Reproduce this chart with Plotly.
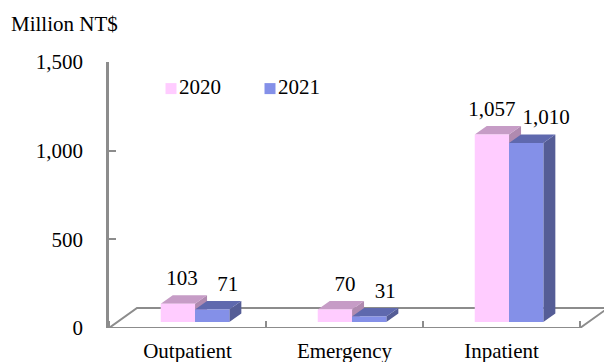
import plotly.graph_objects as go

categories = ["Outpatient", "Emergency", "Inpatient"]
series_names = ["2020", "2021"]
values_2020 = [103, 70, 1057]
values_2021 = [71, 31, 1010]
y_ticks = [0, 500, 1000, 1500]

# styling / geometry (axis units: x = 1 category, y = value)
PX_X = 157.0
PX_Y = 266.0 / 1500
W, H = 604, 362
FONT = "Liberation Serif"
FS = 21
GREY = "#8c8c8c"
BAR_W = 34.3 / PX_X
GROUP_C = 0.548
BASE = 6 / PX_Y
SIDE_DX = 12 / PX_X
TOP_DY = 8.5 / PX_Y
FLOOR_DX = 28 / PX_X
FLOOR_DY = 20 / PX_Y
XMAX = (W - 109) / PX_X
LABEL_DX_2020 = [4 / PX_X, 10 / PX_X, 0 / PX_X]
LABEL_DX_2021 = [15.5 / PX_X, 16 / PX_X, 20 / PX_X]
LIFT = 24 / PX_Y


def faces(centers, vals):
    sx, sy, tx, ty = [], [], [], []
    for c, v in zip(centers, vals):
        l, r = c - BAR_W / 2, c + BAR_W / 2
        b, t = BASE, BASE + v
        sx += [r, r + SIDE_DX, r + SIDE_DX, r, None]
        sy += [b, b + TOP_DY, t + TOP_DY, t, None]
        tx += [l, l + SIDE_DX, r + SIDE_DX, r, None]
        ty += [t, t + TOP_DY, t + TOP_DY, t, None]
    return sx, sy, tx, ty


def poly(x, y, color):
    return go.Scatter(x=x, y=y, mode="lines", fill="toself", fillcolor=color,
                      line=dict(width=0, color=color), hoverinfo="skip",
                      showlegend=False)


idx = list(range(len(categories)))
c20 = [i + GROUP_C - BAR_W / 2 for i in idx]
c21 = [i + GROUP_C + BAR_W / 2 for i in idx]
n = len(categories)

fig = go.Figure()

# floor of the 3-D box
fig.add_trace(go.Scatter(
    x=[0, FLOOR_DX, n + FLOOR_DX, n, 0],
    y=[0, FLOOR_DY, FLOOR_DY, 0, 0],
    mode="lines", line=dict(color=GREY, width=2), cliponaxis=False,
    hoverinfo="skip", showlegend=False))

s, sy, t, ty = faces(c20, values_2020)
fig.add_trace(poly(s, sy, "#B08AB0"))
fig.add_trace(poly(t, ty, "#C69CC6"))
s, sy, t, ty = faces(c21, values_2021)
fig.add_trace(poly(s, sy, "#555D96"))
fig.add_trace(poly(t, ty, "#5F69AE"))

# front faces on an overlaying axis pair, above the depth faces
for name, centers, vals, col in [(series_names[0], c20, values_2020, "#FFCCFF"),
                                 (series_names[1], c21, values_2021, "#8490E8")]:
    fig.add_trace(go.Bar(x=centers, y=vals, base=BASE, width=BAR_W, name=name,
                         marker=dict(color=col, line=dict(width=0)),
                         xaxis="x2", yaxis="y2", showlegend=False))

# value labels
for centers, vals, dx in [(c20, values_2020, LABEL_DX_2020), (c21, values_2021, LABEL_DX_2021)]:
    fig.add_trace(go.Scatter(
        x=[c + d for c, d in zip(centers, dx)],
        y=[BASE + v + LIFT for v in vals],
        text=[f"{v:,}" for v in vals], mode="text", textposition="middle center",
        textfont=dict(family=FONT, size=FS, color="black"), cliponaxis=False,
        xaxis="x2", yaxis="y2", hoverinfo="skip", showlegend=False))

# key
for name, col, kx in [(series_names[0], "#FFCCFF", 62 / PX_X), (series_names[1], "#8490E8", 161 / PX_X)]:
    fig.add_trace(go.Scatter(
        x=[kx], y=[1350], text=[name], mode="markers+text",
        textposition="middle right",
        marker=dict(symbol="square", size=11, color=col, line=dict(width=0)),
        textfont=dict(family=FONT, size=FS, color="black"),
        xaxis="x2", yaxis="y2", hoverinfo="skip", showlegend=False))

fig.update_layout(
    template="none",
    width=W, height=H, autosize=False,
    margin=dict(l=109, r=0, t=62, b=34, pad=0),
    paper_bgcolor="white", plot_bgcolor="white",
    barmode="overlay", showlegend=False,
    font=dict(family=FONT, size=FS, color="black"),
    xaxis=dict(range=[0, XMAX], tickmode="array", automargin=False,
               tickvals=[i + 0.5 for i in idx], ticktext=categories,
               ticks="", showline=False, showgrid=False, zeroline=False,
               ticklabelstandoff=8,
               tickfont=dict(family=FONT, size=FS, color="black"),
               minor=dict(tickmode="array", tickvals=list(range(n + 1)),
                          ticks="inside", ticklen=7, tickwidth=1.5, tickcolor=GREY,
                          showgrid=False)),
    yaxis=dict(range=[0, 1500], tickmode="array", tickvals=y_ticks, automargin=False,
               ticktext=[f"{v:,}" for v in y_ticks],
               ticks="inside", ticklen=7, tickwidth=1.5, tickcolor=GREY,
               showline=True, linecolor=GREY, linewidth=2.5,
               showgrid=False, zeroline=False, ticklabelstandoff=19,
               tickfont=dict(family=FONT, size=FS, color="black")),
    xaxis2=dict(overlaying="x", range=[0, XMAX], visible=False),
    yaxis2=dict(overlaying="y", range=[0, 1500], visible=False),
    annotations=[dict(text="Million NT$", xref="paper", yref="paper",
                      x=-100 / 495, y=(266 + 62 - 24) / 266, xanchor="left",
                      yanchor="middle", showarrow=False,
                      font=dict(family=FONT, size=FS, color="black"))],
)

fig.write_html("out.html", config=dict(displayModeBar=False),
               post_script="document.body.style.margin='0';document.body.style.overflow='hidden';")
